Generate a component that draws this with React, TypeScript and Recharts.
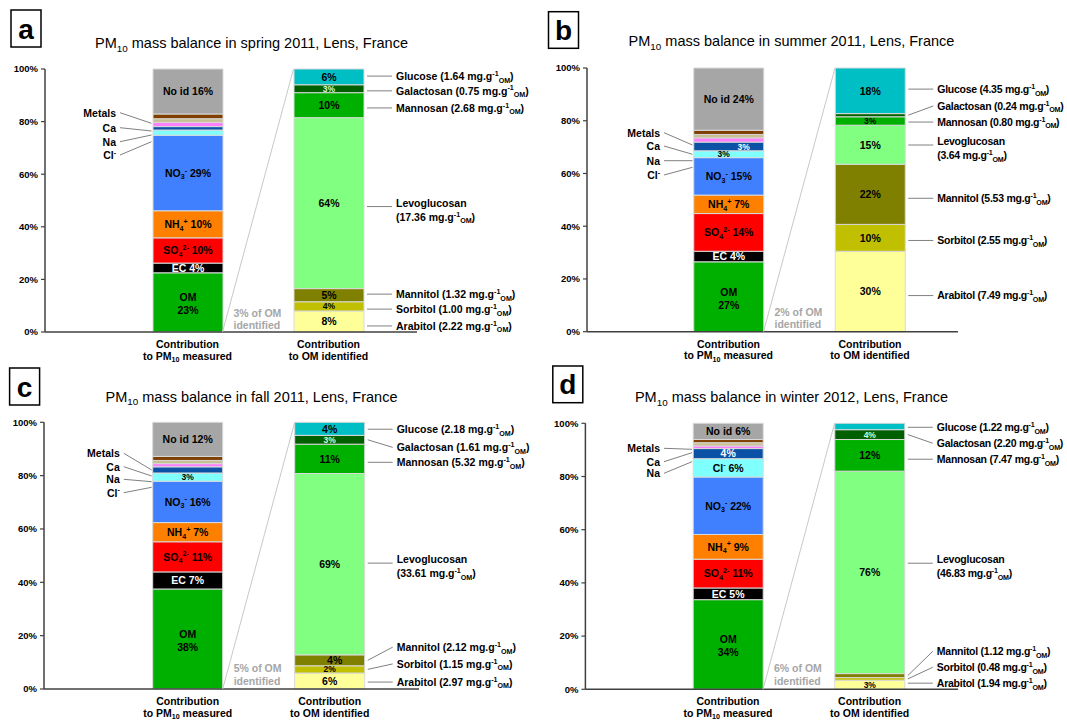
import React from 'react';
import { BarChart, Bar, XAxis, YAxis, LabelList } from 'recharts';

const FONT = '"Liberation Sans", Arial, Helvetica, sans-serif';

// stack order, bottom to top
const pmKeys = ['OM', 'EC', 'SO4', 'NH4', 'NO3', 'Cl', 'Na', 'Ca', 'Metals', 'Others', 'NoId'];
const pmColors = ['#00B000', '#000000', '#FF0000', '#FF8000', '#4080FF', '#80FFFF', '#0B52A6', '#FF80FF', '#C9BF94', '#7F3F00', '#A6A6A6'];
const pmTextColors = ['#000', '#fff', '#000', '#000', '#000', '#000', '#fff', '#000', '#000', '#000', '#000'];

const sugarKeys = ['Arabitol', 'Sorbitol', 'Mannitol', 'Levoglucosan', 'Mannosan', 'Galactosan', 'Glucose'];
const sugarColors = ['#FFFF99', '#C0C000', '#808000', '#80FF80', '#00B000', '#006000', '#00BFC4'];
const sugarTextColors = ['#000', '#000', '#000', '#000', '#000', '#D0FFD0', '#000'];

const categories = ['Contribution|to PM_{10} measured', 'Contribution|to OM identified'];
const yTicks = [0, 20, 40, 60, 80, 100];

const seasons = ['spring 2011', 'summer 2011', 'fall 2011', 'winter 2012'];
const panelLetters = ['a', 'b', 'c', 'd'];
const omIdentified = [3, 2, 5, 6];

// spring 2011
const springPM = [22.5, 3.7, 9.6, 10.3, 28.7, 2.0, 1.3, 1.6, 1.4, 1.8, 17.1];
const springPMLabels = ['OM|23%', 'EC 4%', 'SO_{4}^{2-} 10%', 'NH_{4}^{+} 10%', 'NO_{3}^{-} 29%', '', '', '', '', '', 'No id 16%'];
const springOM = [8, 3.5, 5, 65, 9.5, 3, 6];
const springOMLabels = ['8%', '4%', '5%', '64%', '10%', '3%', '6%'];
const springConc = [2.22, 1.0, 1.32, 17.36, 2.68, 0.75, 1.64];

// summer 2011
const summerPM = [26.5, 4, 14.3, 7, 14.2, 2.6, 3.3, 1.6, 1.3, 1.6, 23.6];
const summerPMLabels = ['OM|27%', 'EC 4%', 'SO_{4}^{2-} 14%', 'NH_{4}^{+} 7%', 'NO_{3}^{-} 15%', '3%', '3%', '', '', '', 'No id 24%'];
const summerOM = [30.5, 10.2, 22.8, 14.8, 3.2, 1.2, 17.3];
const summerOMLabels = ['30%', '10%', '22%', '15%', '3%', '', '18%'];
const summerConc = [7.49, 2.55, 5.53, 3.64, 0.8, 0.24, 4.35];

// fall 2011
const fallPM = [37.5, 6.4, 11.3, 7.2, 15.5, 3.1, 2.3, 1.2, 1.2, 1.5, 12.8];
const fallPMLabels = ['OM|38%', 'EC 7%', 'SO_{4}^{2-} 11%', 'NH_{4}^{+} 7%', 'NO_{3}^{-} 16%', '3%', '', '', '', '', 'No id 12%'];
const fallOM = [6, 2.7, 4.1, 68, 11, 3.3, 4.9];
const fallOMLabels = ['6%', '2%', '4%', '69%', '11%', '3%', '4%'];
const fallConc = [2.97, 1.15, 2.12, 33.61, 5.32, 1.61, 2.18];

// winter 2012
const winterPM = [33.7, 4.4, 10.8, 9.3, 21.6, 6.9, 3.8, 1.0, 1.2, 1.2, 6.1];
const winterPMLabels = ['OM|34%', 'EC 5%', 'SO_{4}^{2-} 11%', 'NH_{4}^{+} 9%', 'NO_{3}^{-} 22%', 'Cl^{-} 6%', '4%', '', '', '', 'No id 6%'];
const winterOM = [3.4, 1.0, 1.5, 76.1, 11.9, 3.7, 2.4];
const winterOMLabels = ['3%', '', '', '76%', '12%', '4%', ''];
const winterConc = [1.94, 0.48, 1.12, 46.83, 7.47, 2.2, 1.22];

const pmSeries = [springPM, summerPM, fallPM, winterPM];
const pmLabelSeries = [springPMLabels, summerPMLabels, fallPMLabels, winterPMLabels];
const omSeries = [springOM, summerOM, fallOM, winterOM];
const omLabelSeries = [springOMLabels, summerOMLabels, fallOMLabels, winterOMLabels];
const concSeries = [springConc, summerConc, fallConc, winterConc];

// panel geometry (pixels inside each 540 x 372 panel)
const layouts = [
  {
    ox: 0, oy: 0, plotTop: 69, plotBottom: 332, axisX: 45, plotRight: 417, bar1: 187.5, bar2: 328.5, barW: 70,
    titleY: 43, box: { x: 11, y: 10, w: 30, h: 37 }, identY: [313, 325],
    calloutPct: [2.3, 8.7, 14.4, 47.7, 85.2, 91.7, 97.3], calloutSpacing: 0,
    labelDx: {} as Record<string, number>,
    textRight: 116,
    left: [{ t: 'Metals', ty: 112.7, ay: 123.3 }, { t: 'Ca', ty: 127.7, ay: 131 }, { t: 'Na', ty: 141.7, ay: 135 }, { t: 'Cl^{-}', ty: 155, ay: 141.7 }],
  },
  {
    ox: 540, oy: 0, plotTop: 68, plotBottom: 331.7, axisX: 47, plotRight: 418, bar1: 188.5, bar2: 330, barW: 70,
    titleY: 41, box: { x: 8.5, y: 11.7, w: 30, h: 36.6 }, identY: [312, 323.5],
    calloutPct: [13.7, 34.6, 50.6, 70.8, 79.5, 85.6, 92.0], calloutSpacing: -0.25,
    labelDx: { Cl: -5, Na: 15 } as Record<string, number>,
    textRight: 120,
    left: [{ t: 'Metals', ty: 132.7, ay: 145 }, { t: 'Ca', ty: 146, ay: 154.3 }, { t: 'Na', ty: 160.7, ay: 160.7 }, { t: 'Cl^{-}', ty: 175, ay: 167.3 }],
  },
  {
    ox: 0, oy: 360, plotTop: 62.3, plotBottom: 329, axisX: 44, plotRight: 419, bar1: 187.7, bar2: 329.7, barW: 70,
    titleY: 36.7, box: { x: 9.6, y: 8, w: 30, h: 37 }, identY: [308.3, 321],
    calloutPct: [2.6, 9.4, 15.7, 47.2, 85.0, 90.6, 97.4], calloutSpacing: 0,
    labelDx: { Mannitol: 5 } as Record<string, number>,
    textRight: 119.8,
    left: [{ t: 'Metals', ty: 93.3, ay: 110 }, { t: 'Ca', ty: 106.7, ay: 116 }, { t: 'Na', ty: 119.3, ay: 121.7 }, { t: 'Cl^{-}', ty: 132.7, ay: 127.3 }],
  },
  {
    ox: 540, oy: 360, plotTop: 63.3, plotBottom: 329.3, axisX: 45.4, plotRight: 418, bar1: 188, bar2: 329.6, barW: 70,
    titleY: 37.3, box: { x: 12.8, y: 6, w: 30, h: 36.7 }, identY: [308.3, 320.7],
    calloutPct: [2.3, 8.3, 14.3, 47.4, 86.5, 92.5, 98.5], calloutSpacing: -0.25,
    labelDx: {} as Record<string, number>,
    textRight: 120,
    left: [{ t: 'Metals', ty: 88.3, ay: 89.3 }, { t: 'Ca', ty: 101.7, ay: 92.7 }, { t: 'Na', ty: 113.3, ay: 101.7 }],
  },
];

const W = 540;
const H = 372;
const X_AXIS_H = 40;

// "_{x}" subscript, "^{x}" superscript
function rich(s: string, fs: number) {
  const parts = s.split(/(_\{[^}]*\}|\^\{[^}]*\})/).filter((p) => p !== '');
  let shift = 0;
  return parts.map((p, i) => {
    let target = 0;
    let t = p;
    let size = fs;
    if (p.startsWith('_{')) {
      target = fs * 0.25;
      t = p.slice(2, -1);
      size = fs * 0.68;
    } else if (p.startsWith('^{')) {
      target = -fs * 0.4;
      t = p.slice(2, -1);
      size = fs * 0.68;
    }
    const dy = target - shift;
    shift = target;
    return (
      <tspan key={i} dy={dy} fontSize={size}>
        {t}
      </tspan>
    );
  });
}

function inner(text: string, color: string, vb: any, dx: number) {
  const { x, y, width, height } = vb;
  const cx = x + width / 2 + dx;
  const cy = y + height / 2;
  const small = height < 10 && !/[A-Za-z]/.test(text);
  const fs = small ? 8.5 : 10.5;
  const lines = text.split('|');
  return lines.map((l, i) => (
    <text
      key={i}
      x={cx}
      y={cy + (i - (lines.length - 1) / 2) * 13 + fs * 0.36 + (lines.length > 1 ? 1.5 : 0)}
      textAnchor="middle"
      fontSize={fs}
      fontWeight="bold"
      fill={color}
      fontFamily={FONT}
    >
      {rich(l, fs)}
    </text>
  ));
}

// which of the two bars a segment belongs to
function onBar(vb: any, L: any, which: number) {
  if (!vb || !(vb.height > 0)) return false;
  const c = vb.x + vb.width / 2;
  const mid = (L.bar1 + L.bar2) / 2;
  return which === 0 ? c < mid : c >= mid;
}

function pmContent(text: string, color: string, dx: number, L: any) {
  return (p: any) => {
    const vb = p.viewBox || p;
    if (!text || !onBar(vb, L, 0)) return null;
    return <g>{inner(text, color, vb, dx)}</g>;
  };
}

function sugarContent(text: string, color: string, name: string, conc: number, pct: number, dx: number, L: any) {
  return (p: any) => {
    const vb = p.viewBox || p;
    if (!onBar(vb, L, 1)) return null;
    const { x, y, width, height } = vb;
    const ly = L.plotTop + ((100 - pct) / 100) * (L.plotBottom - L.plotTop);
    const ay = ly >= y && ly <= y + height ? ly : y + height / 2;
    const right = x + width;
    const concText = `(${conc.toFixed(2)} mg.g^{-1}_{OM})`;
    const lines = name === 'Levoglucosan' ? [name, concText] : [`${name} ${concText}`];
    const fs = 10.5;
    return (
      <g>
        {text ? inner(text, color, vb, dx) : null}
        <line x1={right + 3} y1={ay} x2={right + 28} y2={ly} stroke="#808080" strokeWidth={1} />
        {lines.map((l, i) => (
          <text
            key={i}
            x={right + 32}
            y={ly + (lines.length > 1 ? -3.5 + i * 14 : 0) + fs * 0.36}
            fontSize={fs}
            fontWeight="bold"
            fill="#000"
            fontFamily={FONT}
            letterSpacing={L.calloutSpacing}
          >
            {rich(l, fs)}
          </text>
        ))}
      </g>
    );
  };
}

function CatTick(props: any) {
  const { x, y, payload } = props;
  const lines = String(payload.value).split('|');
  return (
    <g>
      {lines.map((l, i) => (
        <text key={i} x={x} y={y + 16 + i * 11.5} textAnchor="middle" fontSize={10.5} fontWeight="bold" fill="#000" fontFamily={FONT}>
          {rich(l, 10.5)}
        </text>
      ))}
    </g>
  );
}

function Panel({ idx }: { idx: number }) {
  const L = layouts[idx];
  const pm = pmSeries[idx];
  const pmLabels = pmLabelSeries[idx];
  const om = omSeries[idx];
  const omLabels = omLabelSeries[idx];
  const conc = concSeries[idx];

  const row1: any = { cat: categories[0] };
  const row2: any = { cat: categories[1] };
  pmKeys.forEach((k, i) => {
    row1[k] = pm[i];
    row2[k] = 0;
  });
  sugarKeys.forEach((k, i) => {
    row1[k] = 0;
    row2[k] = om[i];
  });
  const data = [row1, row2];

  const plotW = L.plotRight - L.axisX;
  const bw = L.bar2 - L.bar1;
  const padL = L.bar1 - L.axisX - bw / 2;
  const padR = plotW - padL - 2 * bw;
  const bar1Right = L.bar1 + L.barW / 2;
  const bar1Left = L.bar1 - L.barW / 2;
  const bar2Left = L.bar2 - L.barW / 2;

  return (
    <div style={{ position: 'absolute', left: L.ox, top: L.oy, width: W, height: H }}>
      <BarChart
        width={W}
        height={H}
        data={data}
        margin={{ top: L.plotTop, right: W - L.plotRight, left: 0, bottom: H - L.plotBottom - X_AXIS_H }}
      >
        <XAxis
          dataKey="cat"
          height={X_AXIS_H}
          padding={{ left: padL, right: padR }}
          tickLine={false}
          tickSize={0}
          tickMargin={0}
          tick={<CatTick />}
          axisLine={{ stroke: '#404040', strokeWidth: 1.5 }}
          interval={0}
        />
        <YAxis
          width={L.axisX}
          domain={[0, 100]}
          ticks={yTicks}
          tickFormatter={(v: number) => `${v}%`}
          tickSize={4}
          tickMargin={3}
          axisLine={{ stroke: '#404040', strokeWidth: 1.5 }}
          tickLine={{ stroke: '#404040', strokeWidth: 1.2 }}
          tick={{ fontSize: 9.5, fontWeight: 'bold', fill: '#000', fontFamily: FONT }}
        />
        {pmKeys.map((k, i) => (
          <Bar key={k} dataKey={k} stackId="s" fill={pmColors[i]} stroke="#D9D9D9" strokeWidth={1} barSize={L.barW} isAnimationActive={false}>
            <LabelList content={pmContent(pmLabels[i], pmTextColors[i], L.labelDx[k] || 0, L)} />
          </Bar>
        ))}
        {sugarKeys.map((k, i) => (
          <Bar key={k} dataKey={k} stackId="s" fill={sugarColors[i]} stroke="#D9D9D9" strokeWidth={1} barSize={L.barW} isAnimationActive={false}>
            <LabelList content={sugarContent(omLabels[i], sugarTextColors[i], k, conc[i], L.calloutPct[i], L.labelDx[k] || 0, L)} />
          </Bar>
        ))}
      </BarChart>
      <svg width={W} height={H} style={{ position: 'absolute', left: 0, top: 0, pointerEvents: 'none' }} fontFamily={FONT}>
        <rect x={L.box.x} y={L.box.y} width={L.box.w} height={L.box.h} fill="#fff" stroke="#000" strokeWidth={1.5} />
        <text x={L.box.x + L.box.w / 2} y={L.box.y + L.box.h / 2 + 10} textAnchor="middle" fontSize={28} fontWeight="bold" fill="#000">
          {panelLetters[idx]}
        </text>
        <text x={251.5} y={L.titleY + 5} textAnchor="middle" fontSize={14.5} fill="#000">
          {rich(`PM_{10} mass balance in ${seasons[idx]}, Lens, France`, 14.5)}
        </text>
        <line x1={bar1Right} y1={L.plotBottom} x2={bar2Left} y2={L.plotTop} stroke="#C8C8C8" strokeWidth={1} />
        <text x={bar1Right + 11} y={L.identY[0] + 4} fontSize={10.5} fontWeight="bold" fill="#A6A6A6">
          {`${omIdentified[idx]}% of OM`}
        </text>
        <text x={bar1Right + 11} y={L.identY[1] + 4} fontSize={10.5} fontWeight="bold" fill="#A6A6A6">
          identified
        </text>
        {L.left.map((c, i) => (
          <g key={i}>
            <text x={L.textRight} y={c.ty + 3.8} textAnchor="end" fontSize={10.5} fontWeight="bold" fill="#000">
              {rich(c.t, 10.5)}
            </text>
            <line x1={L.textRight + 4} y1={c.ty} x2={bar1Left - 1} y2={c.ay} stroke="#808080" strokeWidth={1} />
          </g>
        ))}
      </svg>
    </div>
  );
}

export default function App() {
  return (
    <div style={{ position: 'absolute', left: 0, top: 0, width: 1067, height: 720, background: '#fff', fontFamily: FONT }}>
      {[0, 1, 2, 3].map((i) => (
        <Panel key={i} idx={i} />
      ))}
    </div>
  );
}
